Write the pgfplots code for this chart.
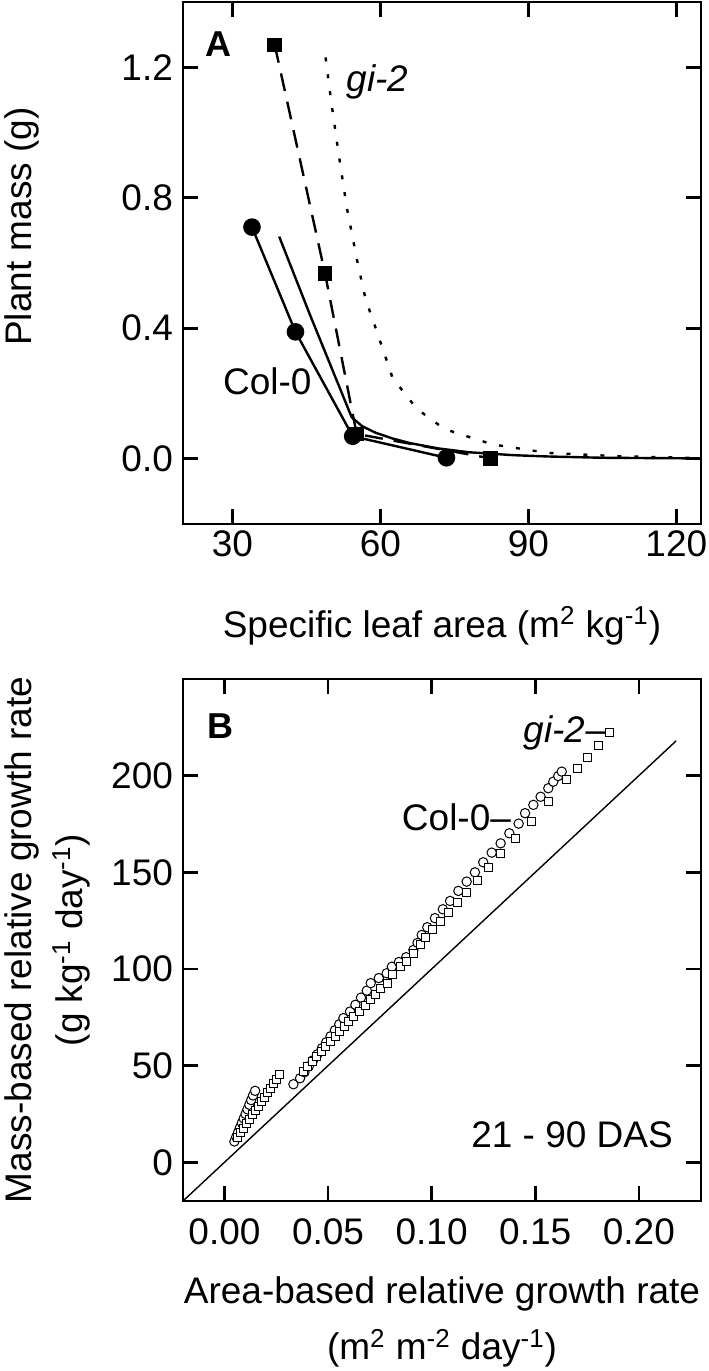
\documentclass[border=0pt]{standalone}
\usepackage{fontspec}
\setmainfont{Liberation Sans}
\usepackage{pgfplots}
\pgfplotsset{compat=1.18}
\pgfplotsset{
  panel/.style={
    scale only axis, width=259pt, anchor=south west,
    axis line style={line width=1.3pt},
    tick style={line width=1.3pt, black},
    major tick length=7.5pt,
    tick align=inside,
    xtick pos=both, ytick pos=both,
    xticklabel pos=left, yticklabel pos=left,
    tick label style={font=\fontsize{18.5}{22}\selectfont},
    /pgf/number format/assume math mode=true,
    scaled ticks=false,
  },
}
\begin{document}
\begin{tikzpicture}
\path[use as bounding box] (-91.5pt,-423.5pt) rectangle (262.5pt,262pt);
% ---------------- Panel A ----------------
\begin{axis}[panel, at={(0pt,0pt)}, height=261pt,
  xmin=20, xmax=125, ymin=-0.2, ymax=1.4,
  xtick={30,60,90,120}, ytick={0,0.4,0.8,1.2},
  yticklabel style={/pgf/number format/fixed, /pgf/number format/fixed zerofill, /pgf/number format/precision=1, xshift=-1.5pt},
  xticklabel style={yshift=0pt},
  xlabel={Specific leaf area (m\textsuperscript{2} kg\textsuperscript{-1})},
  ylabel={Plant mass (g)},
  xlabel style={font=\fontsize{18.5}{22}\selectfont, at={(axis description cs:0.5,-0.1954)}, anchor=center},
  ylabel style={font=\fontsize{18.5}{22}\selectfont, at={(axis description cs:-0.3108,0.570)}, anchor=center},
]
% gi-2 model (dotted)
\addplot[black, line width=1.2pt, dash pattern=on 2pt off 6.5pt] coordinates {
 (48.9,1.23) (50.0,1.10) (51.4,0.950) (53.2,0.77) (55.4,0.60) (57.0,0.49) (59.0,0.403)
 (62.5,0.247) (67.4,0.153) (73.0,0.091) (82.7,0.044) (93.9,0.018) (107.8,0.008) (125,0.002)};
% Col-0 model (solid)
\addplot[black, line width=1.2pt] coordinates {
 (39.5,0.681) (45.8,0.439) (54.2,0.127) (56.3,0.100) (59.0,0.080) (62.5,0.062) (66.0,0.048)
 (71.6,0.032) (77.9,0.020) (86.9,0.011) (93.9,0.007) (105,0.003) (125,0.001)};
% gi-2 measured (dashed, squares)
\addplot[black, line width=1.2pt, dash pattern=on 9pt off 5.5pt, mark=square*, mark size=3.1pt, mark options={solid}] coordinates {
 (38.6,1.268) (48.8,0.567) (55.2,0.076) (82.4,0.001)};
% Col-0 measured (solid, circles)
\addplot[black, line width=1.2pt, mark=*, mark size=3.8pt] coordinates {
 (33.98,0.710) (42.8,0.389) (54.4,0.069) (73.4,0.003)};
\node[anchor=base west, inner sep=0pt, font=\fontsize{18}{21}\selectfont\bfseries] at (axis cs:24.56,1.232) {A};
\node[anchor=base west, inner sep=0pt, font=\fontsize{18.5}{22}\selectfont\itshape] at (axis cs:53.1,1.126) {gi-2};
\node[anchor=base west, inner sep=0pt, font=\fontsize{18.5}{22}\selectfont] at (axis cs:28.05,0.197) {Col-0};
\end{axis}
% ---------------- Panel B ----------------
\begin{axis}[panel, at={(0pt,-338.5pt)}, height=261pt,
  xmin=-0.02, xmax=0.23, ymin=-20, ymax=250,
  xtick={0,0.05,0.1,0.15,0.2}, ytick={0,50,100,150,200},
  xticklabel style={/pgf/number format/fixed, /pgf/number format/fixed zerofill, /pgf/number format/precision=2, yshift=-5.3pt},
  yticklabel style={xshift=-1.5pt},
  xlabel={Area-based relative growth rate\\(m\textsuperscript{2} m\textsuperscript{-2} day\textsuperscript{-1})},
  xlabel style={font=\fontsize{18.5}{28}\selectfont, align=center, at={(axis description cs:0.5,-0.2318)}, anchor=center},
  ylabel={Mass-based relative growth rate\\(g kg\textsuperscript{-1} day\textsuperscript{-1})},
  ylabel style={font=\fontsize{18.5}{25.5}\selectfont, align=center, at={(axis description cs:-0.2616,0.5)}, anchor=center},
]
\addplot[black, line width=0.7pt] coordinates {(-0.02,-20) (0.218,218)};
% Col-0 (open circles)
\addplot[only marks, mark=*, mark size=2.35pt, mark options={fill=white, draw=black, line width=0.5pt}] coordinates {
 (0.0048,10.8) (0.0057,13.2) (0.0066,15.6) (0.0075,18.0) (0.0084,20.4) (0.0093,22.7)
 (0.0102,25.0) (0.0111,27.4) (0.0120,29.8) (0.0129,32.2) (0.0138,34.6) (0.0148,37.0)
 (0.0333,40.4) (0.0365,43.5) (0.0386,46.6) (0.0407,49.7) (0.0428,52.8) (0.0449,55.9)
 (0.0470,59.0) (0.0491,62.1) (0.0512,65.2) (0.0533,68.3) (0.0554,71.4) (0.0574,74.6)
 (0.0606,78.0) (0.0632,81.5) (0.0659,85.2) (0.0687,88.8) (0.0706,92.7) (0.0745,95.3)
 (0.0783,97.8) (0.0808,101.2) (0.0842,103.6) (0.0877,106.1) (0.0912,109.9) (0.0932,113.5)
 (0.0952,117.6) (0.0979,121.6) (0.1016,126.3) (0.1054,130.9) (0.1089,135.2) (0.1129,140.4)
 (0.1169,145.2) (0.1209,150.0) (0.1249,155.2) (0.1290,160.2) (0.1333,165.0) (0.1375,170.2)
 (0.1420,175.2) (0.1451,180.6) (0.1491,184.9) (0.1526,189.1) (0.1563,193.5) (0.1587,196.9)
 (0.1611,199.8) (0.1628,202.1)};
% gi-2 (open squares)
\addplot[only marks, mark=square*, mark size=2pt, mark options={fill=white, draw=black, line width=0.5pt}] coordinates {
 (0.0065,13.0) (0.0079,15.3) (0.0094,17.6) (0.0108,19.9) (0.0122,22.2) (0.0136,24.5)
 (0.0151,26.8) (0.0165,29.1) (0.0179,31.4) (0.0194,33.7) (0.0208,36.0) (0.0222,38.3)
 (0.0236,40.6) (0.0251,42.9) (0.0265,45.2)
 (0.0380,47.0) (0.0402,49.6) (0.0424,52.2) (0.0446,54.8) (0.0468,57.4) (0.0490,60.0)
 (0.0512,62.6) (0.0534,65.2) (0.0556,67.8) (0.0578,70.4) (0.0600,73.0) (0.0622,75.6)
 (0.0650,78.2) (0.0679,80.9) (0.0703,84.0) (0.0727,86.6) (0.0751,90.1) (0.0786,92.7)
 (0.0810,97.0) (0.0848,101.2) (0.0880,103.8) (0.0912,107.8) (0.0944,112.5) (0.0968,116.2)
 (0.1003,120.2) (0.1041,124.5) (0.1081,129.2) (0.1124,134.3) (0.1169,139.7) (0.1220,145.6)
 (0.1274,152.4) (0.1333,159.9) (0.1406,167.6) (0.1480,176.2) (0.1563,186.6) (0.1652,197.8)
 (0.1703,203.8) (0.1753,209.5) (0.1804,215.5) (0.1857,222.4)};
\node[anchor=base west, inner sep=0pt, font=\fontsize{18}{21}\selectfont\bfseries] at (axis cs:-0.0083,219.3) {B};
\node[anchor=base west, inner sep=0pt, font=\fontsize{18.5}{22}\selectfont] at (axis cs:0.0855,171.5) {Col-0--};
\node[anchor=base west, inner sep=0pt, font=\fontsize{18.5}{22}\selectfont] at (axis cs:0.1443,217.1) {\textit{gi-2}--};
\node[anchor=base east, inner sep=0pt, font=\fontsize{18.5}{22}\selectfont] at (axis cs:0.2166,7.9) {21 - 90 DAS};
\end{axis}
\end{tikzpicture}
\end{document}
